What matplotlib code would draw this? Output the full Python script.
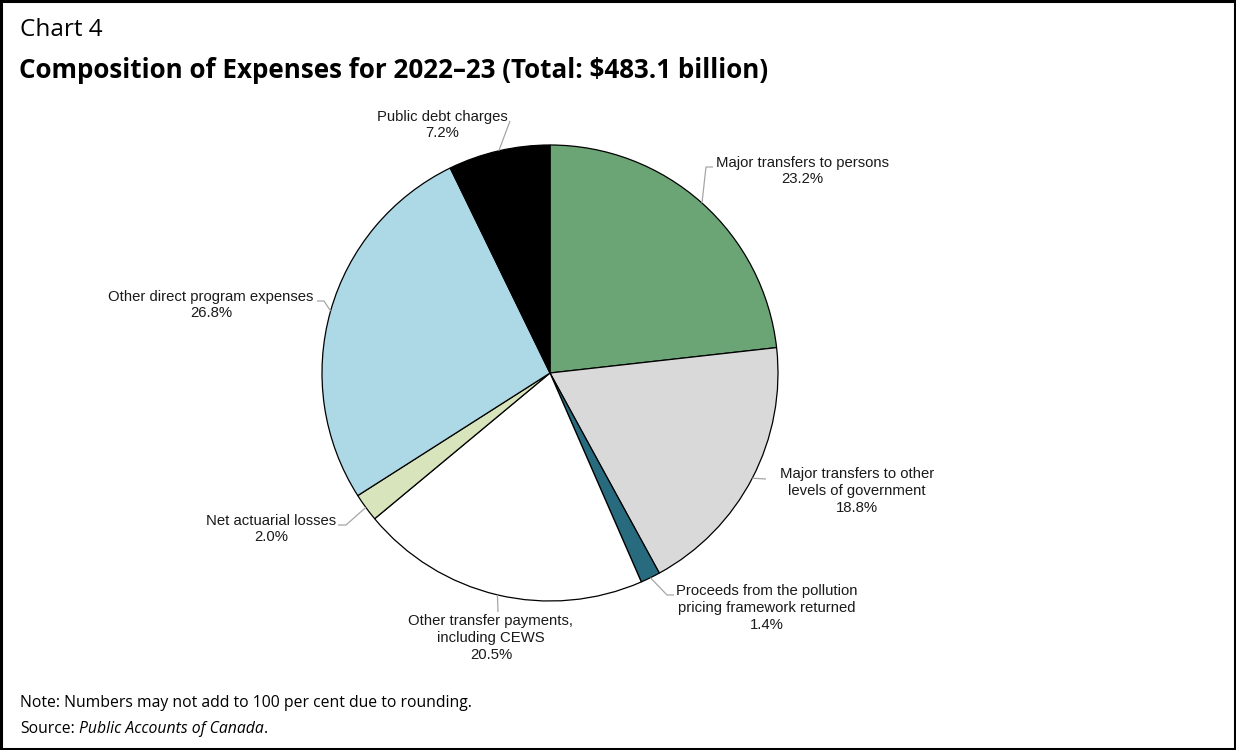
import numpy as np
import matplotlib
matplotlib.use("Agg")
import matplotlib.pyplot as plt
from matplotlib.patches import Rectangle

# Expense categories (clockwise from 12 o'clock) and their share of total
categories = [
    "Major transfers to persons",
    "Major transfers to other\nlevels of government",
    "Proceeds from the pollution\npricing framework returned",
    "Other transfer payments,\nincluding CEWS",
    "Net actuarial losses",
    "Other direct program expenses",
    "Public debt charges",
]
shares = [23.2, 18.8, 1.4, 20.5, 2.0, 26.8, 7.2]
colors = ["#6ba576", "#d9d9d9", "#286b7f", "#ffffff", "#d8e4bc", "#add8e6", "#000000"]

title_small = "Chart 4"
title_main = "Composition of Expenses for 2022\u201323 (Total: $483.1 billion)"
note_text = "Note: Numbers may not add to 100 per cent due to rounding."
source_label = "Source:"
source_title = "Public Accounts of Canada"

W, H = 1236, 750
fig = plt.figure(figsize=(W / 100, H / 100), dpi=100)
fig.patch.set_facecolor("white")

# pie geometry in pixels
cx, cy, R = 550, 373, 228
ax = fig.add_axes([(cx - R) / W, (H - cy - R) / H, 2 * R / W, 2 * R / H])
wedges, _ = ax.pie(
    shares, colors=colors, startangle=90, counterclock=False, radius=1.0,
    wedgeprops=dict(edgecolor="black", linewidth=0.9),
)
ax.set_xlim(-1, 1)
ax.set_ylim(-1, 1)
ax.set_aspect("equal")
ax.axis("off")


def to_data(px, py):
    return (px - cx) / R, (cy - py) / R


# label layout: text centre (px) and leader elbow points (px)
layout = [
    dict(text=(802, 171), path=[(706, 167), (713, 167)]),
    dict(text=(857, 491), path=[(766, 479)]),
    dict(text=(767, 608), path=[(667, 595), (674, 595)]),
    dict(text=(491, 638), path=[(498, 612)]),
    dict(text=(271, 529), path=[(346, 525), (338, 525)]),
    dict(text=(211, 305), path=[(324, 301), (317, 301)]),
    dict(text=(442, 125), path=[(510, 121)]),
]

label_font = dict(family=["Liberation Sans", "DejaVu Sans"], size=10.7, color="#1a1a1a")
for w, cat, val, lay in zip(wedges, categories, shares, layout):
    mid = np.deg2rad((w.theta1 + w.theta2) / 2)
    pts = [(np.cos(mid), np.sin(mid))] + [to_data(*p) for p in lay["path"]]
    xs, ys = zip(*pts)
    ax.plot(xs, ys, color="#a6a6a6", lw=0.9, clip_on=False, solid_capstyle="butt")
    tx, ty = to_data(*lay["text"])
    ax.text(tx, ty, f"{cat}\n{val:.1f}%", ha="center", va="center",
            multialignment="center", linespacing=1.25, clip_on=False, **label_font)

head_font = ["Open Sans", "DejaVu Sans"]
fig.text(20 / W, 1 - 30 / H, title_small, fontsize=17.5, family=head_font,
         ha="left", va="center", color="black")
fig.text(19 / W, 1 - 70 / H, title_main, fontsize=18.7, family=head_font,
         fontweight="bold", ha="left", va="center", color="black")

foot_size = 11.3
fig.text(20 / W, 1 - 703 / H, note_text, fontsize=foot_size, family=head_font,
         ha="left", va="center", color="black")
s1 = fig.text(20 / W, 1 - 729 / H, source_label, fontsize=foot_size, family=head_font,
              ha="left", va="center", color="black")
fig.canvas.draw()
x_next = s1.get_window_extent().x1 + 4
s2 = fig.text(x_next / W, 1 - 729 / H, source_title, fontsize=foot_size,
              family=head_font, style="italic", ha="left", va="center", color="black")
fig.canvas.draw()
fig.text(s2.get_window_extent().x1 / W, 1 - 729 / H, ".", fontsize=foot_size,
         family=head_font, ha="left", va="center", color="black")

# outer frame
fig.add_artist(Rectangle((0.001, 0.0015), 0.998, 0.997, transform=fig.transFigure,
                         fill=False, edgecolor="black", linewidth=2.2))

fig.savefig("out.png", dpi=100, facecolor="white")
